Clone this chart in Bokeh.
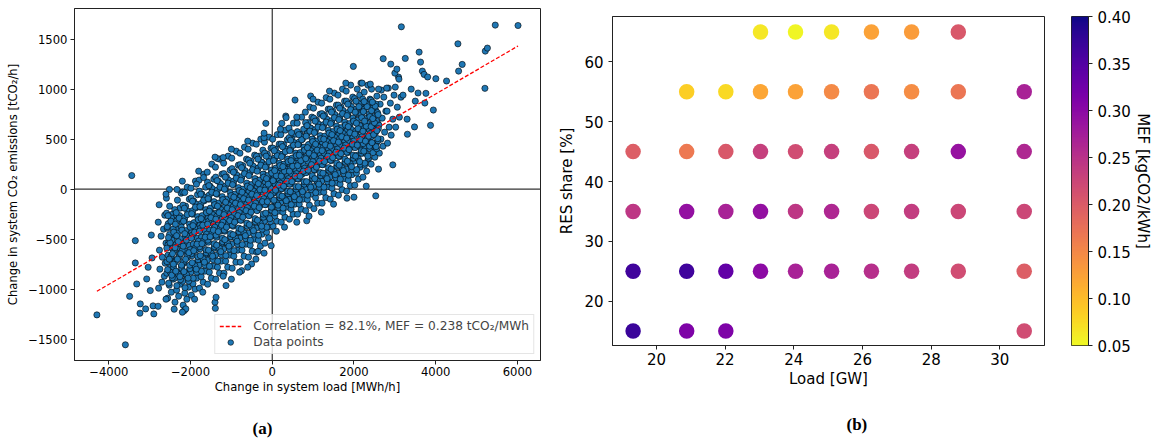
import numpy as np
from bokeh.plotting import figure
from bokeh.layouts import row
from bokeh.models import (Span, Legend, LegendItem, FixedTicker, LinearColorMapper, Title,
                          ColumnDataSource)
from bokeh.transform import linear_cmap
from bokeh.palettes import Plasma256
from bokeh.embed import file_html
from bokeh.resources import INLINE

FONT = "DejaVu Sans"
SERIF = "Liberation Serif"

# ---------------- (a) scatter data: change in load [MWh/h] vs change in CO2 [tCO2/h]
cloud_load = [
    -2780, -2700, -2640, -2750, -2620, -2690, -2760, -2600, -2720, -2660, -2790, -2630,
    -2560, -2470, -2520, -2430, -2580, -2490, -2410, -2550, -2450, -2530, -2420, -2570, -2480, -2440, -2510, -2590,
    -2380, -2290, -2340, -2250, -2390, -2310, -2220, -2360, -2270, -2330, -2240, -2370, -2300, -2210, -2350, -2260, -2320, -2230,
    -2180, -2090, -2140, -2050, -2190, -2110, -2020, -2160, -2070, -2130, -2040, -2170, -2100, -2010, -2150, -2060, -2120, -2030, -2190, -2080,
    -1980, -1890, -1940, -1850, -1990, -1910, -1820, -1960, -1870, -1930, -1840, -1970, -1900, -1810, -1950, -1860, -1920, -1830, -1990, -1880,
    -1780, -1690, -1740, -1650, -1790, -1710, -1620, -1760, -1670, -1730, -1640, -1770, -1700, -1610, -1750, -1660, -1720, -1630, -1790, -1680,
    -1580, -1490, -1540, -1450, -1590, -1510, -1420, -1560, -1470, -1530, -1440, -1570, -1500, -1410, -1550, -1460, -1520, -1430, -1590, -1480,
    -1380, -1290, -1340, -1250, -1390, -1310, -1220, -1360, -1270, -1330, -1240, -1370, -1300, -1210, -1350, -1260, -1320, -1230, -1390, -1280,
    -1180, -1090, -1140, -1050, -1190, -1110, -1020, -1160, -1070, -1130, -1040, -1170, -1100, -1010, -1150, -1060, -1120, -1030, -1190, -1080,
    -980, -890, -940, -850, -990, -910, -820, -960, -870, -930, -840, -970, -900, -810, -950, -860, -920, -830, -990, -880,
    -780, -690, -740, -650, -790, -710, -620, -760, -670, -730, -640, -770, -700, -610, -750, -660, -720, -630, -790, -680,
    -580, -490, -540, -450, -590, -510, -420, -560, -470, -530, -440, -570, -500, -410, -550, -460, -520, -430, -590, -480,
    -380, -290, -340, -250, -390, -310, -220, -360, -270, -330, -240, -370, -300, -210, -350, -260, -320, -230, -390, -280,
    -180, -90, -140, -50, -190, -110, -20, -160, -70, -130, -40, -170, -100, -10, -150, -60, -120, -30, -190, -80,
    20, 110, 60, 150, 10, 90, 180, 40, 130, 70, 160, 30, 100, 190, 50, 140, 80, 170, 10, 120,
    220, 310, 260, 350, 210, 290, 380, 240, 330, 270, 360, 230, 300, 390, 250, 340, 280, 370, 210, 320,
    420, 510, 460, 550, 410, 490, 580, 440, 530, 470, 560, 430, 500, 590, 450, 540, 480, 570, 410, 520,
    620, 710, 660, 750, 610, 690, 780, 640, 730, 670, 760, 630, 700, 790, 650, 740, 680, 770, 610, 720,
    820, 910, 860, 950, 810, 890, 980, 840, 930, 870, 960, 830, 900, 990, 850, 940, 880, 970, 810, 920,
    1020, 1110, 1060, 1150, 1010, 1090, 1180, 1040, 1130, 1070, 1160, 1030, 1100, 1190, 1050, 1140, 1080, 1170, 1010, 1120,
    1220, 1310, 1260, 1350, 1210, 1290, 1380, 1240, 1330, 1270, 1360, 1230, 1300, 1390, 1250, 1340, 1280, 1370, 1210, 1320,
    1420, 1510, 1460, 1550, 1410, 1490, 1580, 1440, 1530, 1470, 1560, 1430, 1500, 1590, 1450, 1540, 1480, 1570, 1410, 1520,
    1620, 1710, 1660, 1750, 1610, 1690, 1780, 1640, 1730, 1670, 1760, 1630, 1700, 1790, 1650, 1740, 1680, 1770, 1610, 1720,
    1820, 1910, 1860, 1950, 1810, 1890, 1980, 1840, 1930, 1870, 1960, 1830, 1900, 1990, 1850, 1940, 1880, 1970, 1810, 1920,
    2020, 2110, 2060, 2150, 2010, 2090, 2180, 2040, 2130, 2070, 2160, 2030, 2100, 2190, 2050, 2140, 2080, 2170,
    2220, 2310, 2260, 2350, 2210, 2290, 2380, 2240, 2330, 2270, 2360, 2230, 2300, 2390, 2250, 2340,
    2420, 2510, 2460, 2550, 2410, 2490, 2580, 2440, 2530, 2470, 2560, 2430,
    2620, 2710, 2660, 2750, 2610, 2690, 2780, 2640, 2730, 2670,
    2820, 2910, 2860, 2950, 2810, 2890, 2980, 2840,
    3020, 3110, 3060, 3150, 3010, 3090,
]
cloud_co2 = [
    -990, -930, -870, -800, -740, -680, -610, -540, -470, -400, -330, -260,
    -1090, -1030, -960, -900, -840, -780, -720, -660, -590, -530, -460, -390, -320, -250, -170, -90,
    -1130, -1070, -1010, -950, -890, -830, -770, -710, -650, -590, -530, -470, -400, -330, -260, -190, -110, -40,
    -1160, -1100, -1040, -980, -920, -860, -800, -740, -680, -620, -560, -500, -440, -380, -310, -240, -170, -100, -30, 20,
    -1060, -1000, -945, -890, -830, -775, -720, -665, -610, -550, -490, -430, -370, -310, -250, -185, -120, -55, 10, 80,
    -990, -930, -875, -820, -760, -705, -650, -595, -540, -480, -420, -360, -300, -240, -180, -115, -50, 20, 90, 150,
    -950, -890, -830, -770, -710, -650, -590, -530, -470, -410, -350, -290, -230, -165, -100, -35, 30, 100, 170, 250,
    -900, -840, -780, -720, -660, -600, -540, -480, -420, -360, -300, -240, -180, -115, -50, 15, 80, 150, 220, 300,
    -840, -780, -720, -660, -600, -540, -480, -420, -360, -300, -240, -180, -120, -60, 0, 60, 125, 190, 260, 330,
    -790, -730, -670, -610, -550, -490, -430, -370, -310, -250, -190, -130, -70, -10, 50, 110, 175, 240, 310, 380,
    -730, -670, -610, -550, -490, -430, -370, -310, -250, -190, -130, -70, -10, 50, 110, 170, 235, 300, 360, 420,
    -680, -620, -560, -500, -440, -380, -320, -260, -200, -140, -80, -20, 40, 100, 160, 220, 280, 340, 400, 460,
    -630, -570, -510, -450, -390, -330, -270, -210, -150, -90, -30, 30, 90, 150, 210, 270, 330, 390, 450, 500,
    -540, -485, -430, -375, -320, -265, -210, -155, -100, -45, 10, 65, 120, 175, 230, 290, 350, 410, 470, 520,
    -370, -320, -270, -220, -175, -130, -85, -40, 5, 50, 100, 150, 200, 250, 300, 350, 400, 450, 500, 545,
    -330, -280, -230, -180, -130, -85, -40, 5, 50, 95, 145, 195, 245, 295, 345, 395, 445, 495, 545, 590,
    -300, -250, -200, -150, -100, -50, 0, 50, 100, 150, 200, 250, 300, 350, 400, 450, 500, 550, 610, 660,
    -250, -200, -150, -100, -50, 0, 50, 100, 150, 200, 250, 300, 350, 400, 450, 500, 550, 600, 660, 720,
    -215, -160, -105, -50, 5, 60, 115, 170, 225, 280, 335, 390, 445, 500, 555, 610, 665, 720, 770, 820,
    -195, -140, -85, -30, 25, 80, 135, 190, 245, 300, 355, 410, 465, 520, 575, 630, 690, 750, 810, 870,
    -140, -85, -30, 25, 80, 135, 190, 245, 300, 355, 410, 465, 520, 575, 630, 685, 740, 800, 860, 915,
    -100, -45, 10, 65, 120, 175, 230, 285, 340, 395, 450, 505, 560, 615, 670, 725, 780, 840, 900, 960,
    -60, -5, 50, 105, 160, 215, 270, 325, 380, 435, 490, 545, 600, 655, 710, 765, 820, 880, 940, 1000,
    -20, 35, 90, 145, 200, 255, 310, 365, 420, 475, 530, 585, 640, 695, 750, 805, 860, 920, 980, 1040,
    40, 100, 160, 220, 280, 340, 400, 460, 520, 580, 640, 700, 760, 820, 880, 940, 1000, 1060,
    120, 180, 240, 300, 360, 420, 480, 540, 600, 660, 720, 780, 840, 900, 970, 1040,
    250, 320, 390, 460, 530, 600, 660, 720, 790, 860, 930, 1000,
    360, 430, 500, 570, 640, 710, 780, 850, 920, 990,
    460, 540, 620, 700, 780, 860, 940, 1010,
    620, 720, 820, 920, 1020, 1120,
]
core_load = [
    -2535, -2445, -2495, -2415, -2575, -2475, -2405, -2555, -2455, -2515, -2425, -2545, -2465, -2585,
    -2335, -2245, -2295, -2215, -2375, -2275, -2205, -2355, -2255, -2315, -2225, -2345, -2265, -2385,
    -2135, -2045, -2095, -2015, -2175, -2075, -2005, -2155, -2055, -2115, -2025, -2145, -2065, -2185,
    -1935, -1845, -1895, -1815, -1975, -1875, -1805, -1955, -1855, -1915, -1825, -1945, -1865, -1985,
    -1735, -1645, -1695, -1615, -1775, -1675, -1605, -1755, -1655, -1715, -1625, -1745, -1665, -1785,
    -1535, -1445, -1495, -1415, -1575, -1475, -1405, -1555, -1455, -1515, -1425, -1545, -1465, -1585,
    -1335, -1245, -1295, -1215, -1375, -1275, -1205, -1355, -1255, -1315, -1225, -1345, -1265, -1385,
    -1135, -1045, -1095, -1015, -1175, -1075, -1005, -1155, -1055, -1115, -1025, -1145, -1065, -1185,
    -935, -845, -895, -815, -975, -875, -805, -955, -855, -915, -825, -945, -865, -985,
    -735, -645, -695, -615, -775, -675, -605, -755, -655, -715, -625, -745, -665, -785,
    -535, -445, -495, -415, -575, -475, -405, -555, -455, -515, -425, -545, -465, -585,
    -335, -245, -295, -215, -375, -275, -205, -355, -255, -315, -225, -345, -265, -385,
    -135, -45, -95, -15, -175, -75, -5, -155, -55, -115, -25, -145, -65, -185,
    65, 155, 105, 185, 25, 125, 195, 45, 145, 85, 175, 55, 135, 15,
    265, 355, 305, 385, 225, 325, 395, 245, 345, 285, 375, 255, 335, 215,
    465, 555, 505, 585, 425, 525, 595, 445, 545, 485, 575, 455, 535, 415,
    665, 755, 705, 785, 625, 725, 795, 645, 745, 685, 775, 655, 735, 615,
    865, 955, 905, 985, 825, 925, 995, 845, 945, 885, 975, 855, 935, 815,
    1065, 1155, 1105, 1185, 1025, 1125, 1195, 1045, 1145, 1085, 1175, 1055, 1135, 1015,
    1265, 1355, 1305, 1385, 1225, 1325, 1395, 1245, 1345, 1285, 1375, 1255, 1335, 1215,
    1465, 1555, 1505, 1585, 1425, 1525, 1595, 1445, 1545, 1485, 1575, 1455, 1535, 1415,
    1665, 1755, 1705, 1785, 1625, 1725, 1795, 1645, 1745, 1685, 1775, 1655, 1735, 1615,
    1865, 1955, 1905, 1985, 1825, 1925, 1995, 1845, 1945, 1885, 1975, 1855, 1935, 1815,
    2065, 2155, 2105, 2185, 2025, 2125, 2195, 2045, 2145, 2085, 2175, 2055, 2135, 2015,
    2265, 2355, 2305, 2385, 2225, 2325, 2395, 2245, 2345, 2285, 2375, 2255, 2335, 2215,
    2465, 2555, 2505, 2585, 2425, 2525, 2595, 2445, 2545, 2485, 2575, 2455, 2535, 2415,
]
core_co2 = [
    -940, -885, -830, -780, -725, -670, -615, -560, -510, -455, -400, -345, -290, -240,
    -965, -905, -850, -790, -730, -675, -615, -555, -495, -440, -380, -320, -265, -205,
    -985, -920, -855, -795, -730, -665, -605, -540, -475, -415, -350, -285, -220, -160,
    -890, -830, -765, -705, -645, -585, -520, -460, -400, -335, -275, -215, -150, -90,
    -820, -760, -695, -635, -575, -515, -450, -390, -330, -265, -205, -145, -80, -20,
    -770, -705, -640, -575, -510, -445, -380, -320, -255, -190, -125, -60, 5, 70,
    -720, -655, -590, -525, -460, -395, -330, -270, -205, -140, -75, -10, 55, 120,
    -665, -600, -540, -475, -410, -350, -285, -225, -160, -100, -35, 30, 90, 155,
    -615, -550, -490, -425, -360, -300, -235, -175, -110, -50, 15, 80, 140, 205,
    -555, -495, -435, -370, -310, -250, -185, -125, -65, 0, 60, 125, 185, 245,
    -510, -450, -385, -325, -265, -200, -140, -80, -20, 45, 105, 165, 230, 290,
    -460, -400, -340, -280, -215, -155, -95, -35, 25, 90, 150, 210, 270, 330,
    -380, -325, -265, -210, -155, -95, -40, 20, 75, 135, 190, 245, 305, 360,
    -235, -185, -135, -85, -35, 15, 60, 110, 160, 210, 260, 310, 360, 410,
    -190, -140, -95, -45, 5, 55, 105, 155, 200, 250, 300, 350, 400, 450,
    -155, -105, -50, 0, 50, 105, 155, 205, 260, 310, 360, 415, 465, 515,
    -105, -50, 0, 50, 105, 155, 210, 260, 315, 365, 420, 470, 520, 575,
    -60, -5, 50, 105, 165, 220, 275, 330, 385, 445, 500, 555, 610, 665,
    -35, 20, 80, 135, 195, 250, 310, 365, 420, 480, 535, 595, 650, 710,
    20, 75, 135, 190, 245, 305, 360, 415, 475, 530, 590, 645, 700, 755,
    60, 115, 175, 230, 290, 345, 400, 460, 515, 575, 630, 685, 745, 800,
    100, 155, 215, 270, 330, 385, 440, 500, 555, 615, 670, 725, 785, 840,
    140, 195, 255, 310, 370, 425, 480, 540, 595, 655, 710, 765, 825, 880,
    195, 250, 305, 360, 415, 470, 525, 580, 635, 690, 745, 800, 855, 905,
    260, 310, 355, 405, 455, 505, 555, 605, 655, 705, 750, 800, 850, 900,
    365, 405, 445, 485, 525, 565, 605, 645, 685, 725, 765, 810, 850, 890,
]
dense_load = [
    -2460, -2560, -2420, -2520, -2440, -2580, -2500, -2540, -2410, -2570, -2480, -2550,
    -2260, -2360, -2220, -2320, -2240, -2380, -2300, -2340, -2210, -2370, -2280, -2350,
    -2060, -2160, -2020, -2120, -2040, -2180, -2100, -2140, -2010, -2170, -2080, -2150,
    -1860, -1960, -1820, -1920, -1840, -1980, -1900, -1940, -1810, -1970, -1880, -1950,
    -1660, -1760, -1620, -1720, -1640, -1780, -1700, -1740, -1610, -1770, -1680, -1750,
    -1460, -1560, -1420, -1520, -1440, -1580, -1500, -1540, -1410, -1570, -1480, -1550,
    -1260, -1360, -1220, -1320, -1240, -1380, -1300, -1340, -1210, -1370, -1280, -1350,
    -1060, -1160, -1020, -1120, -1040, -1180, -1100, -1140, -1010, -1170, -1080, -1150,
    -860, -960, -820, -920, -840, -980, -900, -940, -810, -970, -880, -950,
    -660, -760, -620, -720, -640, -780, -700, -740, -610, -770, -680, -750,
    -460, -560, -420, -520, -440, -580, -500, -540, -410, -570, -480, -550,
    -260, -360, -220, -320, -240, -380, -300, -340, -210, -370, -280, -350,
    -60, -160, -20, -120, -40, -180, -100, -140, -10, -170, -80, -150,
    140, 40, 180, 80, 160, 20, 100, 60, 190, 30, 120, 50,
    340, 240, 380, 280, 360, 220, 300, 260, 390, 230, 320, 250,
    540, 440, 580, 480, 560, 420, 500, 460, 590, 430, 520, 450,
    740, 640, 780, 680, 760, 620, 700, 660, 790, 630, 720, 650,
    940, 840, 980, 880, 960, 820, 900, 860, 990, 830, 920, 850,
    1140, 1040, 1180, 1080, 1160, 1020, 1100, 1060, 1190, 1030, 1120, 1050,
    1340, 1240, 1380, 1280, 1360, 1220, 1300, 1260, 1390, 1230, 1320, 1250,
    1540, 1440, 1580, 1480, 1560, 1420, 1500, 1460, 1590, 1430, 1520, 1450,
    1740, 1640, 1780, 1680, 1760, 1620, 1700, 1660, 1790, 1630, 1720, 1650,
    1940, 1840, 1980, 1880, 1960, 1820, 1900, 1860, 1990, 1830, 1920, 1850,
    2140, 2040, 2180, 2080, 2160, 2020, 2100, 2060, 2190, 2030, 2120, 2050,
    2340, 2240, 2380, 2280, 2360, 2220, 2300, 2260, 2390, 2230, 2320, 2250,
    2540, 2440, 2580, 2480, 2560, 2420, 2500, 2460, 2590, 2430, 2520, 2450,
]
dense_co2 = [
    -860, -805, -750, -700, -645, -590, -535, -485, -430, -375, -320, -265,
    -875, -820, -760, -700, -645, -585, -525, -465, -410, -350, -290, -235,
    -890, -825, -760, -700, -635, -570, -510, -445, -380, -320, -255, -190,
    -800, -735, -675, -615, -550, -490, -430, -365, -305, -245, -180, -120,
    -730, -665, -605, -545, -480, -420, -360, -295, -235, -175, -110, -50,
    -670, -610, -545, -475, -410, -350, -285, -220, -155, -95, -30, 35,
    -625, -560, -490, -425, -360, -300, -235, -170, -105, -45, 20, 85,
    -570, -505, -445, -380, -315, -255, -190, -130, -65, 0, 60, 120,
    -520, -455, -390, -330, -265, -205, -140, -80, -15, 45, 110, 170,
    -465, -400, -340, -280, -215, -155, -95, -30, 30, 90, 155, 215,
    -415, -355, -295, -230, -170, -110, -50, 15, 75, 135, 195, 260,
    -370, -310, -250, -185, -125, -65, -5, 55, 120, 180, 240, 300,
    -295, -240, -180, -125, -65, -10, 50, 105, 160, 220, 275, 330,
    -160, -110, -60, -10, 40, 85, 135, 185, 235, 285, 335, 385,
    -115, -70, -20, 30, 80, 130, 180, 225, 275, 325, 375, 425,
    -75, -25, 25, 75, 130, 180, 230, 285, 335, 385, 440, 490,
    -25, 25, 75, 130, 180, 235, 285, 340, 390, 445, 495, 545,
    20, 75, 135, 190, 245, 305, 360, 415, 475, 530, 580, 635,
    50, 105, 165, 220, 280, 335, 390, 450, 505, 565, 620, 680,
    105, 160, 215, 275, 330, 385, 445, 500, 560, 615, 670, 730,
    145, 200, 260, 315, 370, 430, 485, 545, 600, 655, 715, 770,
    185, 240, 300, 355, 410, 470, 525, 585, 640, 695, 755, 810,
    225, 280, 340, 395, 450, 510, 565, 625, 680, 735, 795, 850,
    275, 330, 385, 440, 495, 550, 605, 660, 715, 770, 825, 880,
    330, 380, 430, 480, 530, 580, 630, 680, 725, 775, 825, 875,
    425, 465, 505, 545, 585, 625, 665, 705, 745, 785, 830, 870,
]
sparse_load = [
    3159, 5457, 6014, 4543, 5213, 5265, 5204, 4560, 4648, 4265, 4003, 3873, 3942, 3594, 3255, 2950, 2533, 1984,
    2715, 3629, 3673, 3716, 3803, 3307, 3481, 3568, 3760, 3734, -3438, -3351, -3351, -3490, -4291, -3594,
    -3316, -3229, -3238, -3098, -2898, -2916, -2794, -2985, -3072, -3037, -2942, -2959, -2768, -2516, -1401, -1393,
    -1375, -1131, -2150, -2115, -157, -26, 557, 940, 844, 1828, -505, -748, -348, -1340, -1201, -1680, -1854,
    -2332, -2141, -200, 331, 339, 235, 470,
    2200, 2400, 2600, 2800, 3000, 3100, 3200, 3300, 3400, 3500, 2900, 3050,
    -2600, -2400, -2200, -1900, -1700, -1200, -1000, -800, -600, -400, -200, 100, 300, 600, 900, 1200, 1500, 2000, 2300, 2600,
    -2600, -2200, -1800, -1400, -1000, -600, -200, 200, 600, 1000, 1400, 1800,
]
sparse_co2 = [
    1623, 1640, 1636, 1453, 1380, 1410, 1008, 1180, 1247, 1081, 1104, 638, 791, 1370, 1307, 243, -67, 1227,
    1304, 1270, 1180, 1147, 1121, 549, 622, 961, 958, 861, 136, -515, -738, -1071, -1257, -1556,
    -948, -1147, -1240, -1197, -1247, -1167, -1171, -1014, -898, -781, -688, -459, -156, -3, -1131, -1191,
    -1081, -964, -1214, -1197, 658, -565, 891, 931, -316, -90, -748, -815, -622, 306, 316, 116, 50,
    -3, -33, 515, 731, 715, 658, 565,
    1060, 1050, 1000, 1010, 1160, 1100, 940, 700, 1000, 880, 1250, 1200,
    -1100, -1200, -1230, -1100, -1030, -870, -900, -830, -780, -700, -640, -420, -380, -330, -270, -230, -150, -80, 30, 200,
    -50, 80, 180, 320, 400, 480, 560, 600, 720, 900, 980, 1060,
]
MEF_SLOPE = 0.238
FIT_LABEL = "Correlation = 82.1%, MEF = 0.238 tCO\u2082/MWh"

xticks_a = [-4000, -2000, 0, 2000, 4000, 6000]
yticks_a = [-1500, -1000, -500, 0, 500, 1000, 1500]

# ---------------- (b) MEF by load and RES share
load_gw = [
    23.03, 24.05, 25.10, 26.26, 27.43, 28.79,
    20.88, 22.02, 23.03, 24.05, 25.10, 26.26, 27.43, 28.79, 30.71,
    19.32, 20.88, 22.02, 23.03, 24.05, 25.10, 26.26, 27.43, 28.79, 30.71,
    19.32, 20.88, 22.02, 23.03, 24.05, 25.10, 26.26, 27.43, 28.79, 30.71,
    19.32, 20.88, 22.02, 23.03, 24.05, 25.10, 26.26, 27.43, 28.79, 30.71,
    19.32, 20.88, 22.02, 30.71,
]
res_share = [65] * 6 + [55] * 9 + [45] * 10 + [35] * 10 + [25] * 10 + [15] * 4
mef = [
    0.064, 0.053, 0.064, 0.124, 0.130, 0.204,
    0.085, 0.075, 0.120, 0.124, 0.148, 0.169, 0.145, 0.169, 0.270,
    0.197, 0.165, 0.204, 0.232, 0.218, 0.232, 0.204, 0.232, 0.288, 0.263,
    0.243, 0.291, 0.270, 0.291, 0.243, 0.263, 0.225, 0.236, 0.225, 0.225,
    0.365, 0.365, 0.337, 0.298, 0.270, 0.270, 0.253, 0.236, 0.218, 0.197,
    0.370, 0.312, 0.312, 0.218,
]
xticks_b = [20, 22, 24, 26, 28, 30]
yticks_b = [20, 30, 40, 50, 60]
cbar_ticks = [0.05, 0.10, 0.15, 0.20, 0.25, 0.30, 0.35, 0.40]
MEF_LOW, MEF_HIGH = 0.05, 0.40

AXC = "#222222"
H = 441


def style_axes(p, tick_size, label_size, label_standoff, tick_standoff):
    p.frame_align = False
    for ax in list(p.xaxis) + list(p.yaxis):
        ax.major_label_text_font = FONT
        ax.major_label_text_font_size = tick_size
        ax.major_label_text_color = "black"
        ax.axis_label_text_font = FONT
        ax.axis_label_text_font_size = label_size
        ax.axis_label_text_font_style = "normal"
        ax.axis_label_text_color = "black"
        ax.axis_line_color = AXC
        ax.major_tick_line_color = AXC
        ax.major_tick_in = 0
        ax.major_tick_out = 4
        ax.minor_tick_line_color = None
        ax.axis_label_standoff = label_standoff
        ax.major_label_standoff = tick_standoff
    p.xgrid.visible = False
    p.ygrid.visible = False
    p.outline_line_color = AXC
    p.outline_line_width = 1
    p.background_fill_color = "white"
    p.border_fill_color = "white"


def add_caption(p, text, offset, spacer_standoff):
    # invisible spacer, then the bold sub-figure caption, stacked under the x axis
    p.add_layout(Title(text=" ", text_font_size="10px", standoff=spacer_standoff), "below")
    p.add_layout(Title(text=text, align="left", offset=offset, text_font=SERIF, text_font_size="17px",
                       text_font_style="bold", text_color="black", standoff=2), "below")


# ---------------- figure (a)
all_load = cloud_load + core_load + dense_load + sparse_load
all_co2 = cloud_co2 + core_co2 + dense_co2 + sparse_co2
p1 = figure(width=551, height=H, x_range=(-4839, 6564), y_range=(-1713, 1806),
            output_backend="svg", toolbar_location=None,
            min_border_left=74, min_border_right=11, min_border_top=8, min_border_bottom=81)
p1.title.visible = False
style_axes(p1, "11.6px", "11.6px", 1, 2)
p1.yaxis.axis_label_standoff = 5
p1.yaxis.major_label_standoff = 3
p1.xaxis.axis_label = "Change in system load [MWh/h]"
p1.yaxis.axis_label = "Change in system CO\u2082 emissions [tCO\u2082/h]"
p1.xaxis.ticker = FixedTicker(ticks=xticks_a)
p1.yaxis.ticker = FixedTicker(ticks=yticks_a)
p1.xaxis.major_label_overrides = {t: (str(t).replace("-", "\u2212")) for t in xticks_a}
p1.yaxis.major_label_overrides = {t: (str(t).replace("-", "\u2212")) for t in yticks_a}

p1.add_layout(Span(location=0, dimension="height", line_color="#333333", line_width=1.2, level="underlay"))
p1.add_layout(Span(location=0, dimension="width", line_color="#333333", line_width=1.2, level="underlay"))

src_a = ColumnDataSource(dict(x=all_load, y=all_co2))
pts = p1.scatter("x", "y", source=src_a, size=6.2, fill_color="#1f77b4", line_color="black", line_width=0.6)
xmin, xmax = min(all_load), max(all_load)
fit = p1.line([xmin, xmax], [MEF_SLOPE * xmin, MEF_SLOPE * xmax], line_color="red",
              line_dash="4 2", line_width=1.3)
leg = Legend(items=[LegendItem(label=FIT_LABEL, renderers=[fit]),
                    LegendItem(label="Data points", renderers=[pts])],
             location="bottom_right", label_text_font=FONT, label_text_font_size="12.2px",
             border_line_color="#cccccc", background_fill_alpha=0.8,
             glyph_width=22, glyph_height=14, label_height=14, spacing=2, padding=4, margin=6,
             label_standoff=12)
p1.add_layout(leg)
add_caption(p1, "(a)", 178, 6)

# ---------------- figure (b)
src_b = ColumnDataSource(dict(x=load_gw, y=res_share, m=mef))
palette = list(reversed(Plasma256))
p2 = figure(width=503, height=H, x_range=(18.72, 31.30), y_range=(12.57, 67.6),
            output_backend="svg", toolbar_location=None,
            min_border_left=61, min_border_right=10, min_border_top=16, min_border_bottom=96)
p2.title.visible = False
style_axes(p2, "15px", "15px", 2, 3)
p2.yaxis.major_label_standoff = 5
p2.yaxis.axis_label_standoff = 5
p2.xaxis.axis_label = "Load [GW]"
p2.yaxis.axis_label = "RES share [%]"
p2.xaxis.ticker = FixedTicker(ticks=xticks_b)
p2.yaxis.ticker = FixedTicker(ticks=yticks_b)
p2.scatter("x", "y", source=src_b, size=15.5, line_color=None,
           fill_color=linear_cmap("m", palette, MEF_LOW, MEF_HIGH))
add_caption(p2, "(b)", 234, 8)

# ---------------- colorbar
mapper = LinearColorMapper(palette=palette, low=MEF_LOW, high=MEF_HIGH)
grad = np.linspace(MEF_LOW, MEF_HIGH, 256).reshape(256, 1)
p3 = figure(width=100, height=H, x_range=(0, 1), y_range=(MEF_LOW, MEF_HIGH),
            output_backend="svg", toolbar_location=None, y_axis_location="right",
            min_border_left=17, min_border_right=66, min_border_top=16, min_border_bottom=96)
p3.title.visible = False
p3.image(image=[grad], x=0, y=MEF_LOW, dw=1, dh=MEF_HIGH - MEF_LOW, color_mapper=mapper)
p3.xaxis.visible = False
style_axes(p3, "15px", "15px", 0, 5)
p3.yaxis.axis_label = "MEF [kgCO2/kWh]"
p3.yaxis.ticker = FixedTicker(ticks=cbar_ticks)
p3.yaxis.major_label_overrides = {t: f"{t:.2f}" for t in cbar_ticks}

layout = row(p1, p2, p3)
open("out.html", "w").write(file_html(layout, INLINE))
